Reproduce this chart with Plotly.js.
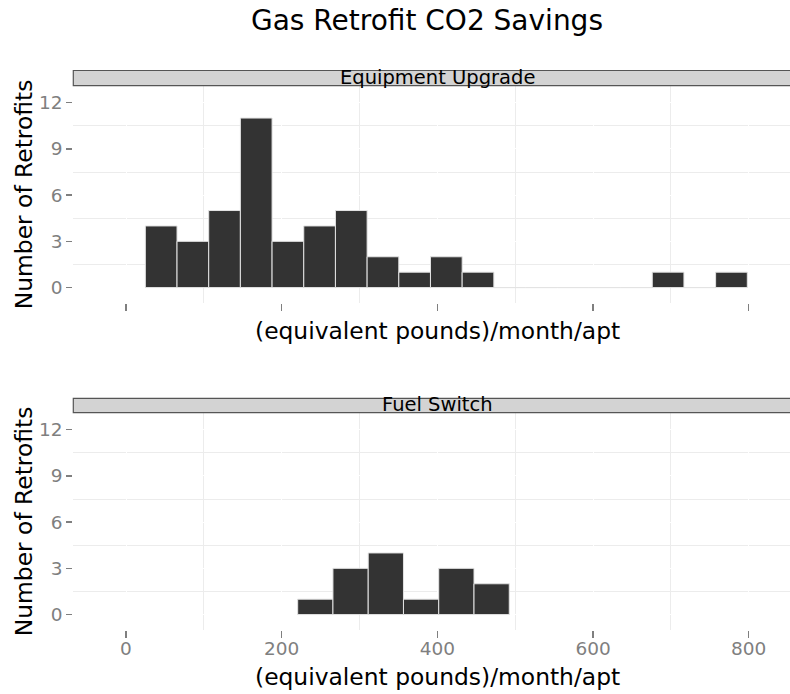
<!DOCTYPE html>
<html>
<head>
<meta charset="utf-8">
<script src="https://cdn.plot.ly/plotly-3.0.1.min.js"></script>
<style>
  html, body { margin: 0; padding: 0; background: #ffffff; overflow: hidden; }
  #chart { width: 790px; height: 694px; }
</style>
</head>
<body>
<div id="chart"></div>
<script>
// ---- data ----
const chartTitle = "Gas Retrofit CO2 Savings";
const xAxisTitle = "(equivalent pounds)/month/apt";
const yAxisTitle = "Number of Retrofits";
const panelNames = ["Equipment Upgrade", "Fuel Switch"];

// Equipment Upgrade histogram: bin centres (lb/month/apt) and counts
const equipBinCenters = [45.2, 85.9, 126.6, 167.3, 208.0, 248.7, 289.4, 330.1, 370.8, 411.5,
                         452.2, 492.9, 533.6, 574.3, 615.0, 655.7, 696.4, 737.1, 777.8];
const equipCounts     = [4, 3, 5, 11, 3, 4, 5, 2, 1, 2, 1, 0, 0, 0, 0, 0, 1, 0, 1];
const equipBinWidth   = 40.7;

// Fuel Switch histogram
const fuelBinCenters = [243.2, 288.5, 333.8, 379.1, 424.4, 469.7];
const fuelCounts     = [1, 3, 4, 1, 3, 2];
const fuelBinWidth   = 45.3;

const xTickVals = [0, 200, 400, 600, 800];
const yTickVals = [0, 3, 6, 9, 12];

// ---- styling ----
const FONT = "DejaVu Sans, Liberation Sans, sans-serif";
const W = 790, H = 694;
const px = (y) => 1 - y / H;       // pixel row -> paper y
const pxX = (x) => x / W;          // pixel col -> paper x

const barStyle = {
  color: "#333333",
  line: { color: "#e3e3e3", width: 1 }
};

const traces = [
  {
    type: "bar", name: panelNames[0],
    x: equipBinCenters, y: equipCounts, width: equipBinWidth,
    marker: barStyle, xaxis: "x", yaxis: "y", showlegend: false, hoverinfo: "x+y"
  },
  {
    type: "bar", name: panelNames[1],
    x: fuelBinCenters, y: fuelCounts, width: fuelBinWidth,
    marker: barStyle, xaxis: "x2", yaxis: "y2", showlegend: false, hoverinfo: "x+y"
  }
];

const xRange = [-67.7, 853];
const yRange = [-1.0, 13.1];

function xAxis(showLabels) {
  return {
    range: xRange, domain: [pxX(73.3), 1],
    tickmode: "array", tickvals: xTickVals, ticktext: xTickVals.map(String),
    showticklabels: showLabels,
    ticks: "outside", ticklen: 7, tickwidth: 1.5, tickcolor: "#7f7f7f",
    ticklabelstandoff: -5,
    tickfont: { family: FONT, size: 18.5, color: "#7f7f7f" },
    showgrid: true, gridcolor: "#ffffff", gridwidth: 1,
    minor: { dtick: 100, showgrid: true, gridcolor: "#ececec", gridwidth: 1, ticks: "" },
    zeroline: false, showline: false, automargin: false, fixedrange: true
  };
}
function yAxis(top, bottom, anchor) {
  return {
    range: yRange, domain: [px(bottom), px(top)], anchor: anchor,
    tickmode: "array", tickvals: yTickVals, ticktext: yTickVals.map(String),
    ticks: "outside", ticklen: 6, tickwidth: 1.5, tickcolor: "#7f7f7f",
    tickfont: { family: FONT, size: 18.5, color: "#7f7f7f" },
    showgrid: true, gridcolor: "#ffffff", gridwidth: 1,
    minor: { dtick: 1.5, showgrid: true, gridcolor: "#ececec", gridwidth: 1, ticks: "" },
    zeroline: false, showline: false, automargin: false, fixedrange: true
  };
}

const x1 = xAxis(false); x1.anchor = "y";
const x2 = xAxis(true);  x2.anchor = "y2";

const titleFont = { family: FONT, size: 23.4, color: "#000000" };

const layout = {
  width: W, height: H,
  margin: { l: 0, r: 0, t: 0, b: 0, pad: 0 },
  paper_bgcolor: "#ffffff", plot_bgcolor: "#ffffff",
  font: { family: FONT, color: "#000000" },
  title: { text: chartTitle, font: { family: FONT, size: 28, color: "#000000" },
           x: pxX(427), xanchor: "center", xref: "paper", y: px(20), yanchor: "middle", yref: "paper" },
  bargap: 0,
  xaxis: x1,
  yaxis: yAxis(85.7, 303, "x"),
  xaxis2: x2,
  yaxis2: yAxis(412.7, 630, "x2"),
  shapes: [
    { type: "rect", xref: "paper", yref: "paper", x0: pxX(73.3), x1: 1.05, y0: px(85.7), y1: px(70.5),
      fillcolor: "#d3d3d3", line: { color: "#555555", width: 1.2 }, layer: "above" },
    { type: "rect", xref: "paper", yref: "paper", x0: pxX(73.3), x1: 1.05, y0: px(412.7), y1: px(398.3),
      fillcolor: "#d3d3d3", line: { color: "#555555", width: 1.2 }, layer: "above" }
  ],
  annotations: [
    { text: panelNames[0], xref: "paper", yref: "paper", x: pxX(437.5), y: px(91), xanchor: "center", yanchor: "bottom",
      showarrow: false, font: { family: FONT, size: 19.5, color: "#000000" } },
    { text: panelNames[1], xref: "paper", yref: "paper", x: pxX(437.5), y: px(418), xanchor: "center", yanchor: "bottom",
      showarrow: false, font: { family: FONT, size: 19.5, color: "#000000" } },
    { text: xAxisTitle, xref: "paper", yref: "paper", x: pxX(437.5), y: px(331), xanchor: "center", yanchor: "middle",
      showarrow: false, font: titleFont },
    { text: xAxisTitle, xref: "paper", yref: "paper", x: pxX(437.5), y: px(677), xanchor: "center", yanchor: "middle",
      showarrow: false, font: titleFont },
    { text: yAxisTitle, xref: "paper", yref: "paper", x: pxX(24), y: px(194.3), xanchor: "center", yanchor: "middle",
      textangle: -90, showarrow: false, font: titleFont },
    { text: yAxisTitle, xref: "paper", yref: "paper", x: pxX(24), y: px(521.3), xanchor: "center", yanchor: "middle",
      textangle: -90, showarrow: false, font: titleFont }
  ]
};

Plotly.newPlot("chart", traces, layout, { displayModeBar: false, staticPlot: true });
</script>
</body>
</html>
